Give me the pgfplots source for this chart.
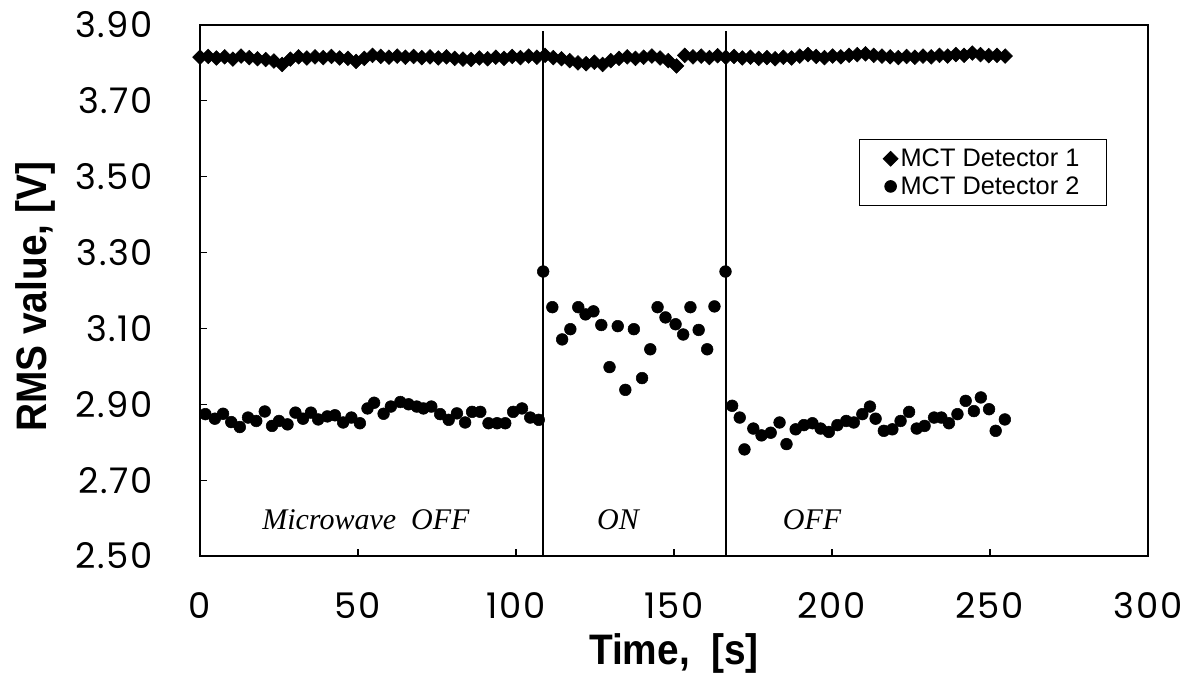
\documentclass[border=0pt]{standalone}
\usepackage{pgfplots}
\pgfplotsset{compat=1.18}
\usepackage{fontspec}
\setmainfont{Liberation Sans}
\newfontfamily\tickfont[LetterSpace=5]{Poppins}
\newfontfamily\labfont[FakeStretch=0.91]{Liberation Sans}
\newfontfamily\serifit{Liberation Serif}
\begin{document}
\begin{tikzpicture}[x=1pt,y=1pt]
\useasboundingbox (0,0) rectangle (897,510);
\begin{axis}[
  at={(150pt,93pt)}, anchor=south west,
  width=711pt, height=398.25pt, scale only axis,
  xmin=0, xmax=300, ymin=2.5, ymax=3.9,
  xtick={0,50,100,150,200,250,300},
  ytick={2.5,2.7,2.9,3.1,3.3,3.5,3.7,3.9},
  tick align=inside, tick pos=left, major tick length=5.5pt,
  axis line style={line width=1.2pt},
  tick style={line width=0.8pt, black},
  /pgf/number format/assume math mode=true,
  ticklabel style={font=\tickfont\fontsize{26.5}{30}\selectfont},
  yticklabel style={/pgf/number format/fixed, /pgf/number format/fixed zerofill, /pgf/number format/precision=2, anchor=east, inner sep=0pt, xshift=-35pt},
  xticklabel style={anchor=north, inner sep=0pt, yshift=-27pt},
  xlabel={Time,~~[s]}, ylabel={RMS value,~[V]},
  label style={font=\labfont\bfseries\fontsize{32}{36}\selectfont},
  xlabel style={at={(axis description cs:0.5,-0.184)}, anchor=center},
  ylabel style={at={(axis description cs:-0.174,0.488)}, anchor=center},
  legend style={at={(axis description cs:0.695,0.785)}, anchor=north west, draw=black, line width=0.6pt,
    font=\fontsize{19}{22}\selectfont, inner xsep=18pt, inner ysep=5pt, row sep=2pt},
  legend cell align=left,
  legend image code/.code={\draw[mark repeat=2,mark phase=2,#1] plot coordinates {(0cm,0cm) (0.17cm,0cm) (0.34cm,0cm)};},
]
\addplot[only marks, black, mark=square*, mark size=3.9pt, mark options={rotate=45, fill=black}] coordinates {
(0,3.815)(2.6,3.817)(5.2,3.813)(7.8,3.816)(10.4,3.810)(13,3.818)(15.6,3.814)(18.2,3.811)(20.8,3.809)(23.4,3.805)
(26,3.796)(28.6,3.810)(31.2,3.816)(33.8,3.813)(36.4,3.816)(39,3.814)(41.6,3.817)(44.2,3.813)(46.8,3.812)(49.4,3.804)
(52,3.812)(54.6,3.820)(57.2,3.817)(59.8,3.815)(62.4,3.818)(65,3.815)(67.6,3.817)(70.2,3.814)(72.8,3.816)(75.4,3.813)
(78,3.816)(80.6,3.812)(83.2,3.810)(85.8,3.809)(88.4,3.813)(91,3.811)(93.6,3.815)(96.2,3.812)(98.8,3.817)(101.4,3.814)
(104,3.818)(106.6,3.815)(109.2,3.820)(111.8,3.814)(114.4,3.811)(117,3.806)(119.6,3.800)(122.2,3.798)(124.8,3.802)(127.4,3.796)
(130,3.806)(132.6,3.812)(135.2,3.816)(137.8,3.812)(140.4,3.815)(143,3.818)(145.6,3.813)(148.2,3.806)(150.8,3.792)(153.4,3.820)
(156,3.816)(158.6,3.818)(161.2,3.814)(163.8,3.819)(166.4,3.815)(169,3.817)(171.6,3.813)(174.2,3.815)(176.8,3.812)(179.4,3.814)
(182,3.811)(184.6,3.815)(187.2,3.813)(189.8,3.818)(192.4,3.822)(195,3.817)(197.6,3.814)(200.2,3.818)(202.8,3.816)(205.4,3.820)
(208,3.822)(210.6,3.824)(213.2,3.820)(215.8,3.818)(218.4,3.816)(221,3.814)(223.6,3.817)(226.2,3.815)(228.8,3.818)(231.4,3.816)
(234,3.820)(236.6,3.818)(239.2,3.822)(241.8,3.820)(244.4,3.826)(247,3.822)(249.6,3.819)(252.2,3.820)(254.8,3.818)
};
\addlegendentry{MCT Detector 1}
\addplot[only marks, black, mark=*, mark size=4.4pt, mark options={fill=black}] coordinates {
(1.7,2.874)(4.7,2.862)(7.3,2.875)(9.9,2.853)(12.6,2.840)(15.2,2.865)(17.8,2.856)(20.5,2.881)(22.8,2.843)(25.0,2.856)
(27.7,2.847)(30.2,2.878)(32.6,2.862)(35.1,2.878)(37.4,2.860)(40.3,2.868)(42.7,2.871)(45.3,2.852)(47.9,2.865)(50.6,2.850)
(53.0,2.889)(55.1,2.904)(58.1,2.875)(60.4,2.894)(63.4,2.906)(66.0,2.900)(68.6,2.894)(70.7,2.889)(73.2,2.894)(76.0,2.874)
(78.7,2.859)(81.3,2.876)(83.9,2.852)(86.1,2.880)(88.7,2.880)(91.3,2.850)(94.0,2.850)(96.6,2.850)(99.1,2.880)(101.9,2.889)
(104.5,2.865)(107.2,2.859)
(108.6,3.250)(111.5,3.156)(114.6,3.071)(117.2,3.098)(119.7,3.156)(122.0,3.137)(124.5,3.145)(127.0,3.109)(129.6,2.998)(132.2,3.106)
(134.6,2.938)(137.3,3.098)(139.9,2.969)(142.5,3.045)(144.8,3.156)(147.3,3.129)(150.5,3.111)(152.9,3.084)(155.2,3.156)(157.8,3.096)
(160.5,3.045)(162.8,3.158)(166.3,3.250)
(168.4,2.896)(170.8,2.865)(172.3,2.781)(175.1,2.836)(177.7,2.818)(180.6,2.825)(183.4,2.852)(185.6,2.795)(188.5,2.834)(191.1,2.845)
(193.8,2.850)(196.4,2.836)(199.0,2.827)(201.7,2.845)(204.5,2.856)(206.9,2.852)(209.6,2.874)(212.0,2.894)(213.8,2.862)(216.4,2.830)
(219.1,2.834)(221.7,2.856)(224.4,2.880)(226.8,2.836)(229.3,2.843)(232.3,2.865)(234.6,2.865)(237.0,2.850)(239.7,2.874)(242.3,2.909)
(244.9,2.882)(247.1,2.918)(249.7,2.887)(251.8,2.830)(254.7,2.860)
};
\addlegendentry{MCT Detector 2}
\addplot[black, line width=1.5pt, forget plot] coordinates {(108.6,2.5) (108.6,3.885)};
\addplot[black, line width=1.5pt, forget plot] coordinates {(166.3,2.5) (166.3,3.885)};
\node[font=\serifit\itshape\fontsize{22.5}{26}\selectfont] at (axis cs:52.5,2.595) {Microwave~~OFF};
\node[font=\serifit\itshape\fontsize{22.5}{26}\selectfont] at (axis cs:132.3,2.595) {ON};
\node[font=\serifit\itshape\fontsize{22.5}{26}\selectfont] at (axis cs:193.7,2.595) {OFF};
\end{axis}
\end{tikzpicture}
\end{document}
